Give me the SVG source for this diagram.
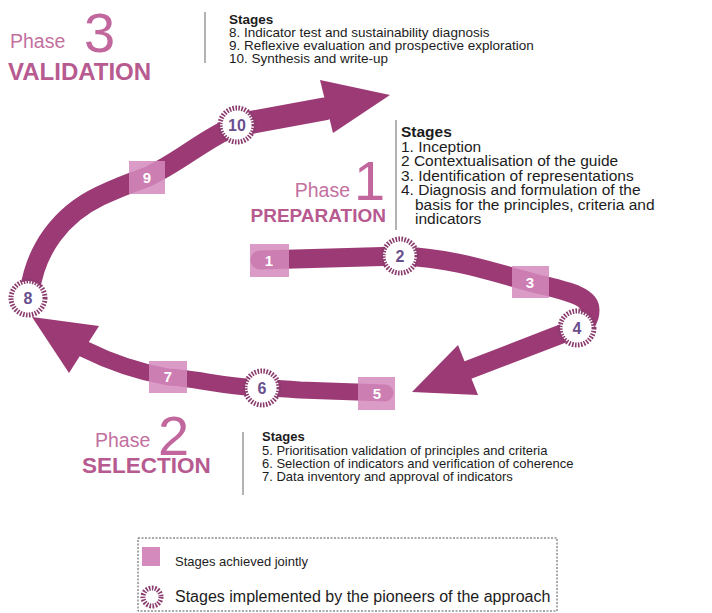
<svg xmlns="http://www.w3.org/2000/svg" width="712" height="613" viewBox="0 0 712 613">
<style>
text{font-family:"Liberation Sans",Arial,sans-serif}
.ph{fill:#c3709f;font-size:19.5px}
.big{fill:#c2679d;font-size:56px}
.ttl{fill:#b75a90;font-weight:bold}
.st{fill:#1c1c1c;font-size:13.5px}
.st2{fill:#1c1c1c;font-size:13px}
.st1{fill:#1c1c1c;font-size:15.5px}
.sb{font-weight:bold}
.vl{stroke:#9a9a9a;stroke-width:1.5}
.band{fill:none;stroke:#9b3a74;stroke-linecap:round}
.head{fill:#9b3a74}
.sq{fill:#d58abd;opacity:0.85}
.sqt{fill:#fff;font-size:15px;font-weight:bold;text-anchor:middle}
.ring{fill:#fff;stroke:#8a3c6e;stroke-width:5;stroke-dasharray:1.6 1.4}
.inner{fill:#fff}
.ct{fill:#6a4f8f;font-size:16px;font-weight:bold;text-anchor:middle}
</style>
<g id="connectors">
<path class="band" stroke-width="20" d="M30,290 C36,250 60,215 100,196 C115,189 130,183 147,177 C180,162 205,138 237,125"/>
<path class="band" stroke-width="23" stroke-linecap="butt" d="M237,125 L324,109"/>
<polygon class="head" points="390,95 320,80 333,133"/>
<path class="band" stroke-width="19" d="M260,260 L400,256 C455,258 495,273 530,282 C560,290 590,294 590,310 C590,320 585,325 577,328 C545,340 505,356 468,370"/>
<polygon class="head" points="412,392 458,345 478,395"/>
<path class="band" stroke-width="17" d="M385,393 L300,390 C285,389 275,388 262,388 C225,387 195,378 168,377 C140,372 110,362 84,349"/>
<polygon class="head" points="32,317 99,326 69,373"/>
</g>
<g id="phase3">
<text class="ph" x="10" y="48">Phase</text>
<text class="big" x="84" y="52">3</text>
<text class="ttl" x="8" y="80" font-size="24px">VALIDATION</text>
<line class="vl" x1="205" y1="12" x2="205" y2="63"/>
<text class="st sb" x="229" y="24">Stages</text>
<text class="st" x="229" y="37">8. Indicator test and sustainability diagnosis</text>
<text class="st" x="229" y="50">9. Reflexive evaluation and prospective exploration</text>
<text class="st" x="229" y="63">10. Synthesis and write-up</text>
</g>
<g id="phase1">
<text class="ph" x="350" y="197" text-anchor="end">Phase</text>
<text class="big" x="354" y="200">1</text>
<text class="ttl" x="386" y="222" text-anchor="end" font-size="19px">PREPARATION</text>
<line class="vl" x1="396" y1="120" x2="396" y2="230"/>
<text class="st1 sb" x="401" y="137">Stages</text>
<text class="st1" x="401" y="151.5">1. Inception</text>
<text class="st1" x="401" y="166">2  Contextualisation of the guide</text>
<text class="st1" x="401" y="180.5">3. Identification of representations</text>
<text class="st1" x="401" y="195">4. Diagnosis and formulation of the</text>
<text class="st1" x="415" y="209.5">basis for the principles, criteria and</text>
<text class="st1" x="415" y="224">indicators</text>
</g>
<g id="phase2">
<text class="ph" x="95" y="447">Phase</text>
<text class="big" x="158" y="455">2</text>
<text class="ttl" x="82" y="473" font-size="22.5px">SELECTION</text>
<line class="vl" x1="243" y1="432" x2="243" y2="495"/>
<text class="st2 sb" x="262" y="441">Stages</text>
<text class="st2" x="262" y="455">5. Prioritisation validation of principles and criteria</text>
<text class="st2" x="262" y="468">6. Selection of indicators and verification of coherence</text>
<text class="st2" x="262" y="481">7. Data inventory and approval of indicators</text>
</g>
<g id="s1"><rect class="sq" x="250" y="244" width="39" height="33"/><text class="sqt" x="269" y="266">1</text></g>
<g id="s2"><circle class="ring" cx="400" cy="256" r="17"/><circle class="inner" cx="400" cy="256" r="13"/><text class="ct" x="400" y="262">2</text></g>
<g id="s3"><rect class="sq" x="512" y="266" width="37" height="32"/><text class="sqt" x="530" y="288">3</text></g>
<g id="s4"><circle class="ring" cx="577" cy="328" r="17"/><circle class="inner" cx="577" cy="328" r="13"/><text class="ct" x="577" y="334">4</text></g>
<g id="s5"><rect class="sq" x="358" y="377" width="37" height="33"/><text class="sqt" x="377" y="399">5</text></g>
<g id="s6"><circle class="ring" cx="262" cy="388" r="17"/><circle class="inner" cx="262" cy="388" r="13"/><text class="ct" x="262" y="394">6</text></g>
<g id="s7"><rect class="sq" x="149" y="361" width="38" height="32"/><text class="sqt" x="168" y="382">7</text></g>
<g id="s8"><circle class="ring" cx="28" cy="298" r="17"/><circle class="inner" cx="28" cy="298" r="13"/><text class="ct" x="28" y="304">8</text></g>
<g id="s9"><rect class="sq" x="129" y="161" width="36" height="33"/><text class="sqt" x="147" y="183">9</text></g>
<g id="s10"><circle class="ring" cx="237" cy="125" r="17"/><circle class="inner" cx="237" cy="125" r="13"/><text class="ct" x="237" y="131">10</text></g>
<g id="legend">
<rect x="138" y="538" width="419" height="73" fill="none" stroke="#555" stroke-width="1" stroke-dasharray="2 1.5"/>
<rect x="142" y="547" width="18" height="19" fill="#d58abd"/>
<text fill="#1c1c1c" font-size="13px" x="175" y="566">Stages achieved jointly</text>
<circle class="ring" cx="152" cy="597" r="9" stroke-width="4"/>
<circle class="inner" cx="152" cy="597" r="6"/>
<text fill="#1c1c1c" font-size="16px" x="175" y="602">Stages implemented by the pioneers of the approach</text>
</g>
</svg>
